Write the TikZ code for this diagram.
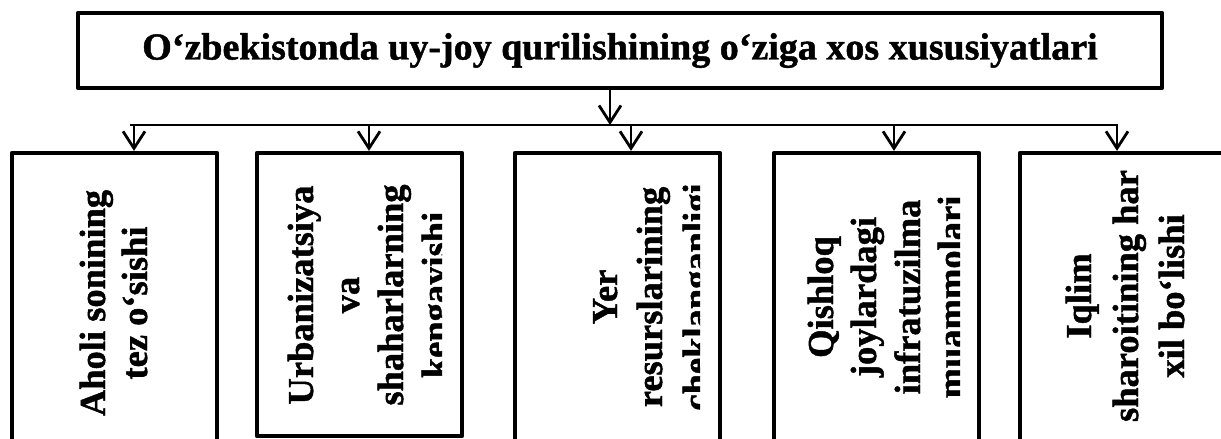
\documentclass[tikz,border=0pt]{standalone}
\usepackage{fontspec}
\setmainfont[BoldFeatures={FakeBold=1.2}]{Liberation Serif}
\usetikzlibrary{arrows.meta}
\begin{document}
\begin{tikzpicture}[x=1pt,y=-1pt,
  topbox/.style={draw, line width=4.5pt, minimum width=1084pt, minimum height=75pt, inner sep=0pt,
    font=\fontsize{38}{40}\selectfont\bfseries},
  catbox/.style={draw, line width=4.2pt, inner sep=0pt, line join=round},
  lbl/.style={rotate=90, anchor=base, inner sep=0pt, font=\fontsize{36.5}{40}\selectfont\bfseries},
  conn/.style={line width=2.8pt},
  arr/.style={line width=2.8pt, -{Straight Barb[length=17pt,width=22pt]}},
]
\useasboundingbox (0,0) rectangle (1221,439);
\clip (0,0) rectangle (1221,439);

% title box
\node[topbox, line join=round] (top) at (620,50.5) {O‘zbekistonda uy-joy qurilishining o‘ziga xos xususiyatlari};

% category boxes
\node[catbox, minimum width=205pt, minimum height=347pt] (b1) at (114.5,326.5) {};
\node[catbox, minimum width=205pt, minimum height=283pt] (b2) at (359.5,294.5) {};
\node[catbox, minimum width=205pt, minimum height=347pt] (b3) at (617.5,326.5) {};
\node[catbox, minimum width=205pt, minimum height=347pt] (b4) at (876.5,326.5) {};
\node[catbox, minimum width=300pt, minimum height=347pt] (b5) at (1170,326.5) {};

% labels
\node[lbl] (b1a) at (105,303) {Aholi sonining};
\node[lbl] (b1b) at (147,303) {tez o‘sishi};

\begin{scope}
\clip (257,153) rectangle (442,436);
\node[lbl] (b2a) at (313,295) {Urbanizatsiya};
\node[lbl] (b2b) at (359,295) {va};
\node[lbl] (b2c) at (403,295) {shaharlarning};
\node[lbl] (b2d) at (447,295) {kengayishi};
\end{scope}

\begin{scope}
\clip (515,153) rectangle (700,439);
\node[lbl] (b3a) at (617,297) {Yer};
\node[lbl] (b3b) at (662,297) {resurslarining};
\node[lbl] (b3c) at (708,297) {cheklanganligi};
\end{scope}

\begin{scope}
\clip (774,153) rectangle (960,439);
\node[lbl] (b4a) at (833,297) {Qishloq};
\node[lbl] (b4b) at (876,297) {joylardagi};
\node[lbl] (b4c) at (920,297) {infratuzilma};
\node[lbl] (b4d) at (963,297) {muammolari};
\end{scope}

\node[lbl] (b5a) at (1091,296) {Iqlim};
\node[lbl] (b5b) at (1138,296) {sharoitining har};
\node[lbl] (b5c) at (1184,296) {xil bo‘lishi};

% connectors
\coordinate (j0) at (610,125);
\coordinate (bl) at (130,125);
\coordinate (br) at (1118.4,125);
\draw[arr] (top.south -| j0) -- (j0);
\draw[conn] (bl) -- (br);
\coordinate (t1) at (134,125);
\coordinate (t2) at (369,125);
\coordinate (t3) at (631,125);
\coordinate (t4) at (894,125);
\coordinate (t5) at (1117,125);
\draw[arr] (t1) -- (t1 |- b1.north);
\draw[arr] (t2) -- (t2 |- b2.north);
\draw[arr] (t3) -- (t3 |- b3.north);
\draw[arr] (t4) -- (t4 |- b4.north);
\draw[arr] (t5) -- (t5 |- b5.north);
\end{tikzpicture}
\end{document}
